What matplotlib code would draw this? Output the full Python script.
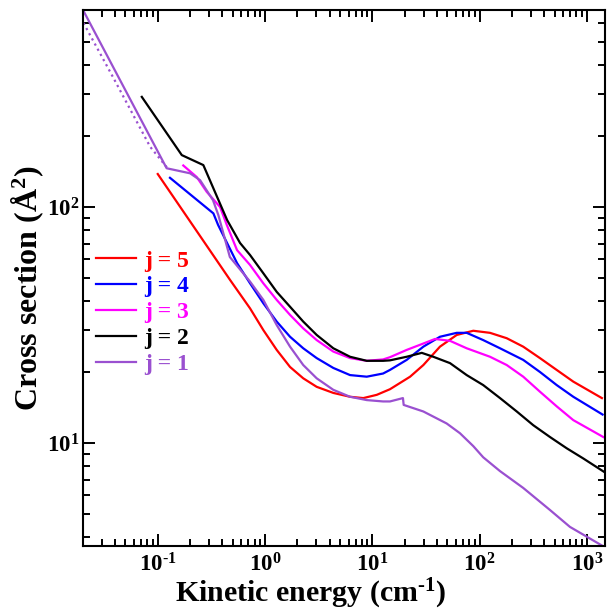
import math
import matplotlib
matplotlib.use("Agg")
import matplotlib.pyplot as plt
from matplotlib.ticker import LogLocator, FuncFormatter, NullFormatter

plt.rcParams["font.family"] = "Liberation Serif"
plt.rcParams["font.weight"] = "bold"
plt.rcParams["mathtext.fontset"] = "custom"
plt.rcParams["mathtext.rm"] = "Liberation Serif:bold"
plt.rcParams["mathtext.bf"] = "Liberation Serif:bold"
plt.rcParams["mathtext.it"] = "Liberation Serif:bold:italic"

# valeurs (énergie en cm-1, section efficace en Å^2)
x_j5 = [0.1, 0.472, 0.725, 0.964, 1.285, 1.71, 2.27, 3.03, 4.33, 6.2, 8.24, 11.0,
        14.6, 22.5, 29.9, 42.7, 61.2, 87.3, 125, 179, 255, 365, 523, 747, 1380]
y_j5 = [138, 49.1, 37.2, 30.1, 24.8, 21.0, 18.8, 17.3, 16.3, 15.7, 15.5, 16.0,
        16.9, 19.1, 21.4, 25.6, 28.7, 29.9, 29.3, 27.8, 25.6, 22.9, 20.4, 18.2, 15.5]

x_j4 = [0.130, 0.33, 0.365, 0.548, 0.725, 0.964, 1.285, 1.71, 2.27, 3.03, 4.33, 6.2,
        8.87, 12.6, 14.6, 20.9, 29.9, 42.7, 61.2, 75.8, 108, 155, 255, 365, 523, 747, 1400]
y_j4 = [133, 94, 84, 57.9, 47.5, 39.1, 32.7, 28.2, 25.2, 22.9, 20.8, 19.4,
        19.1, 19.7, 20.4, 22.5, 25.6, 28.2, 29.3, 29.3, 27.3, 25.2, 22.5, 20.0, 17.6, 15.7, 13.2]

x_j3 = [0.173, 0.231, 0.286, 0.381, 0.44, 0.548, 0.725, 0.964, 1.285, 1.71, 2.27, 3.03,
        4.33, 6.2, 8.87, 12.6, 14.6, 20.9, 29.9, 38.4, 53, 75.8, 125, 179, 255, 365,
        523, 747, 1422]
y_j3 = [150, 134, 116, 100, 84, 65.7, 56.8, 47.5, 40.4, 34.9, 30.6, 27.3,
        24.4, 22.9, 22.3, 22.6, 23.1, 24.8, 26.4, 27.6, 27.1, 25.2, 23.2, 21.4, 19.1, 16.5,
        14.3, 12.5, 10.6]

x_j2 = [0.071, 0.1675, 0.266, 0.443, 0.585, 0.725, 0.964, 1.285, 1.71, 2.27, 3.03, 4.33,
        6.2, 8.87, 12.6, 14.6, 20.9, 28.9, 37, 53, 75.8, 108, 155, 222, 316, 453, 648,
        925, 1475]
y_j2 = [293, 166, 150.6, 88.1, 70.4, 62.6, 52.4, 43.7, 37.8, 32.7, 28.7, 25.2,
        23.2, 22.3, 22.3, 22.4, 23.2, 24.1, 23.2, 21.8, 19.4, 17.6, 15.5, 13.6, 11.9, 10.6, 9.5,
        8.6, 7.5]

x_j1 = [0.0201, 0.121, 0.2, 0.248, 0.327, 0.367, 0.47, 0.725, 0.964, 1.285, 1.71, 2.27,
        3.03, 4.33, 6.2, 8.87, 12.6, 14.6, 19.3, 19.6, 29.9, 49.3, 65.6, 87.3, 108, 155,
        255, 453, 695, 1450]
y_j1 = [684, 146, 139, 130, 107, 92.5, 61.4, 48.3, 40.4, 31.6, 25.6, 21.4,
        18.8, 16.8, 15.7, 15.2, 15.0, 15.0, 15.5, 14.5, 13.6, 12.1, 11.0, 9.7, 8.7, 7.6,
        6.45, 5.2, 4.41, 3.63]

# courbe en pointillés visible à basse énergie pour j = 1
x_j1_pts = [0.0203, 0.0383, 0.085, 0.125]
y_j1_pts = [603, 355, 180, 145]

series = [
    ("j = 5", x_j5, y_j5, "#ff0000"),
    ("j = 4", x_j4, y_j4, "#0000ff"),
    ("j = 3", x_j3, y_j3, "#ff00ff"),
    ("j = 2", x_j2, y_j2, "#000000"),
    ("j = 1", x_j1, y_j1, "#9a50d0"),
]

fig = plt.figure(figsize=(6.08, 6.10), dpi=100)
ax = fig.add_axes([83 / 608, 1 - 546 / 610, 522 / 608, 536 / 610])

for label, xs, ys, col in series:
    ax.plot(xs, ys, color=col, lw=1.6, label=label)
ax.plot(x_j1_pts, y_j1_pts, color="#9a50d0", lw=1.6, ls=":")

ax.set_xscale("log")
ax.set_yscale("log")
ax.set_xlim(0.0201, 1475)
ax.set_ylim(3.66, 684)


def puissance(v, pos):
    n = round(math.log10(v))
    s = str(n).replace("-", "\u2010")
    return r"$\mathbf{10^{%s}}$" % s


ax.xaxis.set_major_locator(LogLocator(base=10, numticks=20))
ax.yaxis.set_major_locator(LogLocator(base=10, numticks=20))
ax.xaxis.set_minor_locator(LogLocator(base=10, subs=range(2, 10), numticks=20))
ax.yaxis.set_minor_locator(LogLocator(base=10, subs=range(2, 10), numticks=20))
ax.xaxis.set_major_formatter(FuncFormatter(puissance))
ax.yaxis.set_major_formatter(FuncFormatter(puissance))
ax.xaxis.set_minor_formatter(NullFormatter())
ax.yaxis.set_minor_formatter(NullFormatter())

ax.tick_params(which="both", direction="in", top=True, right=True, width=1.4)
ax.tick_params(which="major", length=8.6, labelsize=16.5)
ax.tick_params(which="minor", length=5)
ax.tick_params(axis="x", which="major", pad=5)
ax.tick_params(axis="y", which="major", pad=3)
for sp in ax.spines.values():
    sp.set_linewidth(1.5)

fig.text(311 / 608, 1 - 602 / 610, "Kinetic energy (cm$^{\u20101}$)", fontsize=21.5,
         ha="center", va="baseline")
fig.text(37 / 608, 1 - 288 / 610, "Cross section (Å$^{2}$)", fontsize=23,
         ha="center", va="baseline", rotation=90, rotation_mode="anchor")

leg = ax.legend(loc="upper left", bbox_to_anchor=(0.025, 0.552), frameon=False,
                fontsize=17, handlelength=1.7, handletextpad=0.35,
                labelspacing=0.18, borderpad=0, borderaxespad=0,
                labelcolor="linecolor")

fig.savefig("out.png", dpi=100)
